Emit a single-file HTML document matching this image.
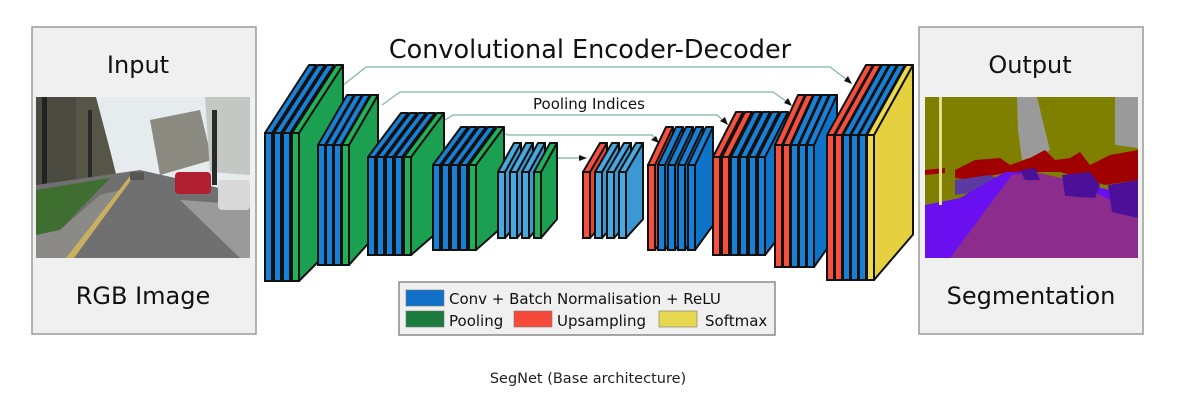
<!DOCTYPE html>
<html><head><meta charset="utf-8"><style>
body{margin:0;background:#fff;}
svg{display:block;font-family:"DejaVu Sans","Liberation Sans",sans-serif;}
</style></head><body>
<svg id="s" width="1188" height="415" viewBox="0 0 1188 415" xmlns="http://www.w3.org/2000/svg">
<rect width="1188" height="415" fill="#fff"/>
<rect x="32" y="27" width="224" height="307" fill="#f0f0f0" stroke="#9a9a9a" stroke-width="1.5"/>
<text x="138" y="73" font-size="24" text-anchor="middle" fill="#111">Input</text>
<text x="143" y="304" font-size="24" text-anchor="middle" fill="#111">RGB Image</text>
<g>
<rect x="36" y="97" width="214" height="161" fill="#e6ebee"/>
<rect x="36" y="110" width="60" height="80" fill="#6e6c60"/>
<rect x="36" y="97" width="40" height="95" fill="#4a4a40"/>
<path d="M76 97 L96 97 L110 150 L120 190 L76 190Z" fill="#555548"/>
<path d="M150 120 L200 110 L212 160 L160 175Z" fill="#8a8a80"/>
<path d="M205 97 L250 97 L250 175 L210 172Z" fill="#c4c8c4"/>
<rect x="42" y="97" width="5" height="110" fill="#222"/>
<rect x="88" y="110" width="4" height="80" fill="#2a2a2a"/>
<rect x="212" y="110" width="5" height="75" fill="#2a2a2a"/>
<path d="M36 185 L140 170 L250 195 L250 258 L36 258Z" fill="#707070"/>
<path d="M36 190 L110 178 L60 230 L36 235Z" fill="#3e6e30"/>
<path d="M36 235 L60 230 L100 195 L120 190 L70 258 L36 258Z" fill="#8c8a86"/>
<path d="M66 258 L130 176 L134 176 L74 258Z" fill="#c8b060"/>
<path d="M180 200 L250 205 L250 258 L240 258Z" fill="#9a9a9a"/>
<rect x="175" y="172" width="36" height="22" rx="4" fill="#b02030"/>
<rect x="218" y="180" width="32" height="30" rx="4" fill="#d8d8d8"/>
<rect x="130" y="172" width="14" height="8" fill="#555"/>
</g>
<rect x="919" y="27" width="224" height="307" fill="#f0f0f0" stroke="#9a9a9a" stroke-width="1.5"/>
<text x="1030" y="73" font-size="24" text-anchor="middle" fill="#111">Output</text>
<text x="1031" y="304" font-size="24" text-anchor="middle" fill="#111">Segmentation</text>
<g>
<rect x="925" y="97" width="213" height="161" fill="#808000"/>
<path d="M1017 97 L1037 97 L1045 130 L1050 150 L1040 155 L1022 160 L1018 130Z" fill="#9a9a9a"/>
<path d="M1115 97 L1138 97 L1138 148 L1115 145Z" fill="#9a9a9a"/>
<path d="M955 170 L975 160 L1000 158 L1010 165 L1030 158 L1045 150 L1055 160 L1070 158 L1080 152 L1090 165 L1110 155 L1138 150 L1138 180 L1105 185 L1060 172 L1010 172 L970 180 L955 178Z" fill="#a00000"/>
<path d="M925 170 L945 168 L945 173 L925 175Z" fill="#a00000"/>
<path d="M955 180 L990 175 L1000 180 L990 190 L955 195Z" fill="#5a3aa0"/>
<path d="M925 205 L960 198 L1005 172 L1030 172 L1060 178 L1090 185 L1110 190 L1138 190 L1138 258 L925 258Z" fill="#6a10f0"/>
<path d="M950 258 L1012 175 L1035 172 L1070 180 L1110 200 L1138 215 L1138 258Z" fill="#8c2c8c"/>
<path d="M1062 175 L1090 172 L1100 185 L1095 198 L1065 196Z" fill="#4c1098"/>
<path d="M1108 185 L1138 180 L1138 218 L1112 212Z" fill="#4c1098"/>
<path d="M1020 170 L1035 168 L1040 180 L1025 180Z" fill="#4c1098"/>
<rect x="939" y="97" width="3" height="108" fill="#e0e090"/>
</g>
<text x="590" y="58" font-size="25.5" text-anchor="middle" fill="#111">Convolutional Encoder-Decoder</text>
<text x="589" y="109" font-size="15" text-anchor="middle" fill="#111">Pooling Indices</text>
<g fill="none" stroke="#7fb5a8" stroke-width="1.2">
<polyline points="342,86 366,67 830,67 850,82"/>
<polyline points="382,105 400,92 773,92 790,104"/>
<polyline points="442,122 453,115 717,115 725,122"/>
<polyline points="503,133 508,135 652,135 656,140"/>
<polyline points="558,158 583,158"/>
</g>
<g fill="#111">
<polygon points="852,84 844,81 848,76"/>
<polygon points="792,106 784,103 788,98"/>
<polygon points="728,125 720,121 725,117"/>
<polygon points="659,143 651,140 656,136"/>
<polygon points="587,158 579,155 579,161"/>
</g>
<g id="blocks"></g>
<rect x="399" y="282" width="376" height="53" fill="#f0f0f0" stroke="#8a8a8a" stroke-width="1.5"/>
<rect x="406" y="290" width="38" height="16" fill="#1170c8" stroke="#777" stroke-width="0.6"/>
<rect x="406" y="311" width="38" height="16" fill="#1b7a3c" stroke="#777" stroke-width="0.6"/>
<rect x="514" y="311" width="38" height="16" fill="#f54a3a" stroke="#777" stroke-width="0.6"/>
<rect x="659" y="311" width="38" height="16" fill="#e8d850" stroke="#777" stroke-width="0.6"/>
<g font-size="15" fill="#111">
<text x="449" y="304">Conv + Batch Normalisation + ReLU</text>
<text x="449" y="326">Pooling</text>
<text x="557" y="326">Upsampling</text>
<text x="705" y="326">Softmax</text>
</g>
<text x="588" y="383" font-size="14.5" text-anchor="middle" fill="#222">SegNet (Base architecture)</text>
</svg>
<script>
var C={b:["#1a80d6","#0f74c8"],l:["#4aa8e0","#3a98d2"],g:["#22b05a","#1aa050"],r:["#f5503e","#e84434"],y:["#ecd94e","#e5d040"]};
var blocks=[
 {x:265,t:133,b:281,s:9,dx:44,dy:68,c:"bbbg"},
 {x:318,t:145,b:265,s:8,dx:29,dy:50,c:"bbbg"},
 {x:368,t:157,b:255,s:9,dx:33,dy:44,c:"bbbbg"},
 {x:433,t:165,b:250,s:9,dx:28,dy:38,c:"bbbbg"},
 {x:498,t:172,b:238,s:12,dx:16,dy:29,c:"lllg"},
 {x:583,t:172,b:238,s:12,dx:17,dy:29,c:"rlll"},
 {x:648,t:165,b:250,s:10,dx:18,dy:38,c:"rbbbb"},
 {x:713,t:157,b:255,s:9,dx:23,dy:45,c:"rrbbbb"},
 {x:775,t:145,b:267,s:8,dx:23,dy:50,c:"rrbbb"},
 {x:827,t:135,b:280,s:8,dx:39,dy:70,c:"rrbbby"}
];
var g=document.getElementById("blocks"),h="";
blocks.forEach(function(B){
 var w=7;
 for(var i=0;i<B.c.length;i++){
  var x=B.x+i*B.s,col=C[B.c[i]],dyb=B.dy*0.65;
  var side=[[x+w,B.t],[x+w+B.dx,B.t-B.dy],[x+w+B.dx,B.b-dyb],[x+w,B.b]];
  var top=[[x,B.t],[x+B.dx,B.t-B.dy],[x+w+B.dx,B.t-B.dy],[x+w,B.t]];
  var p=function(a){return a.map(function(q){return q[0]+","+q[1]}).join(" ")};
  h+='<polygon points="'+p(side)+'" fill="'+col[1]+'" stroke="#111" stroke-width="2" stroke-linejoin="round"/>';
  h+='<polygon points="'+p(top)+'" fill="'+col[0]+'" stroke="#111" stroke-width="2" stroke-linejoin="round"/>';
  h+='<rect x="'+x+'" y="'+B.t+'" width="'+w+'" height="'+(B.b-B.t)+'" fill="'+col[0]+'" stroke="#111" stroke-width="2"/>';
 }
});
g.innerHTML=h;
</script>
</body></html>
